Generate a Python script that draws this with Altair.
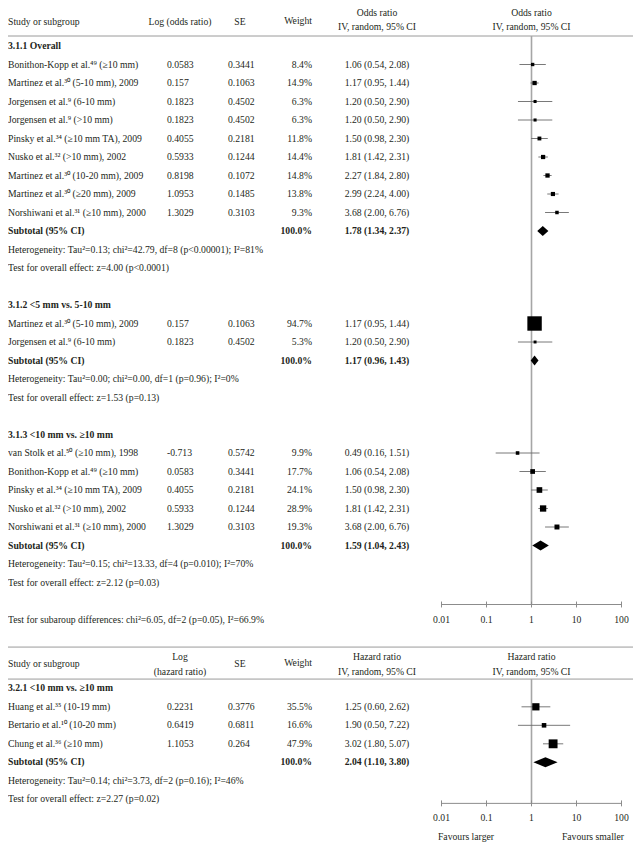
import altair as alt
import pandas as pd

FONT = "Liberation Serif"
FS = 9.7
TXT = "#231f20"
LINE = "#9a9a9a"

# ---------------- data ----------------
g1_label = "3.1.1 Overall"
g1_names = ["Bonithon-Kopp et al.⁴⁹ (≥10 mm)", "Martinez et al.³⁰ (5-10 mm), 2009",
            "Jorgensen et al.⁹ (6-10 mm)", "Jorgensen et al.⁹ (>10 mm)",
            "Pinsky et al.³⁴ (≥10 mm TA), 2009", "Nusko et al.³² (>10 mm), 2002",
            "Martinez et al.³⁰ (10-20 mm), 2009", "Martinez et al.³⁰ (≥20 mm), 2009",
            "Norshiwani et al.³¹ (≥10 mm), 2000"]
g1_log = [0.0583, 0.157, 0.1823, 0.1823, 0.4055, 0.5933, 0.8198, 1.0953, 1.3029]
g1_se = [0.3441, 0.1063, 0.4502, 0.4502, 0.2181, 0.1244, 0.1072, 0.1485, 0.3103]
g1_w = [8.4, 14.9, 6.3, 6.3, 11.8, 14.4, 14.8, 13.8, 9.3]
g1_or = [1.06, 1.17, 1.20, 1.20, 1.50, 1.81, 2.27, 2.99, 3.68]
g1_lo = [0.54, 0.95, 0.50, 0.50, 0.98, 1.42, 1.84, 2.24, 2.00]
g1_hi = [2.08, 1.44, 2.90, 2.90, 2.30, 2.31, 2.80, 4.00, 6.76]
g1_total = [1.78, 1.34, 2.37]
g1_het = "Heterogeneity: Tau²=0.13; chi²=42.79, df=8 (p<0.00001); I²=81%"
g1_test = "Test for overall effect: z=4.00 (p<0.0001)"

g2_label = "3.1.2 <5 mm vs. 5-10 mm"
g2_names = ["Martinez et al.³⁰ (5-10 mm), 2009", "Jorgensen et al.⁹ (6-10 mm)"]
g2_log = [0.157, 0.1823]
g2_se = [0.1063, 0.4502]
g2_w = [94.7, 5.3]
g2_or = [1.17, 1.20]
g2_lo = [0.95, 0.50]
g2_hi = [1.44, 2.90]
g2_total = [1.17, 0.96, 1.43]
g2_het = "Heterogeneity: Tau²=0.00; chi²=0.00, df=1 (p=0.96); I²=0%"
g2_test = "Test for overall effect: z=1.53 (p=0.13)"

g3_label = "3.1.3 <10 mm vs. ≥10 mm"
g3_names = ["van Stolk et al.⁵⁰ (≥10 mm), 1998", "Bonithon-Kopp et al.⁴⁹ (≥10 mm)",
            "Pinsky et al.³⁴ (≥10 mm TA), 2009", "Nusko et al.³² (>10 mm), 2002",
            "Norshiwani et al.³¹ (≥10 mm), 2000"]
g3_log = [-0.713, 0.0583, 0.4055, 0.5933, 1.3029]
g3_se = [0.5742, 0.3441, 0.2181, 0.1244, 0.3103]
g3_w = [9.9, 17.7, 24.1, 28.9, 19.3]
g3_or = [0.49, 1.06, 1.50, 1.81, 3.68]
g3_lo = [0.16, 0.54, 0.98, 1.42, 2.00]
g3_hi = [1.51, 2.08, 2.30, 2.31, 6.76]
g3_total = [1.59, 1.04, 2.43]
g3_het = "Heterogeneity: Tau²=0.15; chi²=13.33, df=4 (p=0.010); I²=70%"
g3_test = "Test for overall effect: z=2.12 (p=0.03)"

subgroup_diff = "Test for subaroup differences: chi²=6.05, df=2 (p=0.05), I²=66.9%"

g4_label = "3.2.1 <10 mm vs. ≥10 mm"
g4_names = ["Huang et al.³⁵ (10-19 mm)", "Bertario et al.¹⁰ (10-20 mm)", "Chung et al.³⁶ (≥10 mm)"]
g4_log = [0.2231, 0.6419, 1.1053]
g4_se = [0.3776, 0.6811, 0.264]
g4_w = [35.5, 16.6, 47.9]
g4_or = [1.25, 1.90, 3.02]
g4_lo = [0.60, 0.50, 1.80]
g4_hi = [2.62, 7.22, 5.07]
g4_total = [2.04, 1.10, 3.80]
g4_het = "Heterogeneity: Tau²=0.14; chi²=3.73, df=2 (p=0.16); I²=46%"
g4_test = "Test for overall effect: z=2.27 (p=0.02)"

subtotal_weight = "100.0%"

top_headers = ["Study or subgroup", "Log (odds ratio)", "SE", "Weight", "Odds ratio", "IV, random, 95% CI"]
bottom_headers = ["Study or subgroup", "Log", "(hazard ratio)", "SE", "Weight", "Hazard ratio", "IV, random, 95% CI"]
tick_values = [0.01, 0.1, 1, 10, 100]
tick_labels = ["0.01", "0.1", "1", "10", "100"]
favours = ["Favours larger", "Favours smaller"]

# ---------------- layout (row units) ----------------
DH = 0.27       # diamond half height
TH = 0.16       # tick half length
B = 34.72       # first row of the lower panel

texts, studies, diamonds = [], [], []


def fmt(e, l, h):
    return f"{e:.2f} ({l:.2f}, {h:.2f})"


def add_group(gid, label, names, log, se, w, est, lo, hi, total, het, test, r0):
    texts.append(dict(r=r0, t=label, col="name", bold=True))
    r = r0
    for i, nm in enumerate(names):
        r = r0 + 1 + i
        texts.extend([
            dict(r=r, t=nm, col="name", bold=False),
            dict(r=r, t=str(log[i]), col="log", bold=False),
            dict(r=r, t=str(se[i]), col="se", bold=False),
            dict(r=r, t=f"{w[i]:.1f}%", col="weight", bold=False),
            dict(r=r, t=fmt(est[i], lo[i], hi[i]), col="ci", bold=False),
        ])
        studies.append(dict(r=r, est=est[i], lo=lo[i], hi=hi[i], w=w[i]))
    rs = r + 1
    texts.extend([
        dict(r=rs, t="Subtotal (95% CI)", col="name", bold=True),
        dict(r=rs, t=subtotal_weight, col="weight", bold=True),
        dict(r=rs, t=fmt(*total), col="ci", bold=True),
        dict(r=rs + 1, t=het, col="name", bold=False),
        dict(r=rs + 2, t=test, col="name", bold=False),
    ])
    e, l, h = total
    diamonds.extend([
        dict(id=gid, x=l, top=rs, bot=rs),
        dict(id=gid, x=e, top=rs - DH, bot=rs + DH),
        dict(id=gid, x=h, top=rs, bot=rs),
    ])
    return rs + 2


last = add_group("g1", g1_label, g1_names, g1_log, g1_se, g1_w, g1_or, g1_lo, g1_hi, g1_total, g1_het, g1_test, 0)
last = add_group("g2", g2_label, g2_names, g2_log, g2_se, g2_w, g2_or, g2_lo, g2_hi, g2_total, g2_het, g2_test, last + 2)
last = add_group("g3", g3_label, g3_names, g3_log, g3_se, g3_w, g3_or, g3_lo, g3_hi, g3_total, g3_het, g3_test, last + 2)
texts.append(dict(r=last + 2, t=subgroup_diff, col="name", bold=False))
top_axis = last + 1.19
top_ticklab = last + 2.0
last4 = add_group("g4", g4_label, g4_names, g4_log, g4_se, g4_w, g4_or, g4_lo, g4_hi, g4_total, g4_het, g4_test, B)
bot_axis = last4 + 0.22
bot_ticklab = last4 + 1.0
fav_row = last4 + 2.04

# headers
th = top_headers
texts.extend([
    dict(r=-1.3, t=th[0], col="name", bold=False),
    dict(r=-1.3, t=th[1], col="hlog", bold=False),
    dict(r=-1.3, t=th[2], col="hse", bold=False),
    dict(r=-1.37, t=th[3], col="weight", bold=False),
    dict(r=-1.77, t=th[4], col="ci", bold=False),
    dict(r=-1.04, t=th[5], col="ci", bold=False),
    dict(r=-1.77, t=th[4], col="fhdr", bold=False),
    dict(r=-1.04, t=th[5], col="fhdr", bold=False),
])
bh = bottom_headers
texts.extend([
    dict(r=B - 1.31, t=bh[0], col="name", bold=False),
    dict(r=B - 1.72, t=bh[1], col="hlog", bold=False),
    dict(r=B - 0.88, t=bh[2], col="hlog", bold=False),
    dict(r=B - 1.31, t=bh[3], col="hse", bold=False),
    dict(r=B - 1.36, t=bh[4], col="weight", bold=False),
    dict(r=B - 1.72, t=bh[5], col="ci", bold=False),
    dict(r=B - 0.88, t=bh[6], col="ci", bold=False),
    dict(r=B - 1.72, t=bh[5], col="fhdr", bold=False),
    dict(r=B - 0.88, t=bh[6], col="fhdr", bold=False),
    dict(r=fav_row, t=favours[0], col="favl", bold=False),
    dict(r=fav_row, t=favours[1], col="favr", bold=False),
])

text_df = pd.DataFrame(texts)
study_df = pd.DataFrame(studies)
diamond_df = pd.DataFrame(diamonds)
hlines_df = pd.DataFrame({"r": [-0.54, B - 2.23, B - 0.5]})
ref_df = pd.DataFrame({"v": [1, 1], "r1": [-0.54, B - 0.5], "r2": [top_axis, bot_axis]})
axis_df = pd.DataFrame({"r": [top_axis, bot_axis]})
tick_df = pd.DataFrame([dict(v=v, lab=l, r=a, lr=tl)
                        for a, tl in [(top_axis, top_ticklab), (bot_axis, bot_ticklab)]
                        for v, l in zip(tick_values, tick_labels)])
tick_df["r1"] = tick_df["r"] - TH
tick_df["r2"] = tick_df["r"] + TH
axis_df["lo"] = tick_values[0]
axis_df["hi"] = tick_values[-1]

# ---------------- scales ----------------
W, H = 625, 836
XS = alt.Scale(type="log", domain=[0.01, 100], range=[433.5, 613.5], nice=False)
YS = alt.Scale(domain=[0, 1], range=[38, 56.5], nice=False, zero=False)

col_spec = {
    "name": (0, "left"), "log": (159, "left"), "se": (220, "left"),
    "weight": (304, "right"), "ci": (369, "center"), "hlog": (172, "center"),
    "hse": (232, "center"), "fhdr": (523.5, "center"), "favl": (458, "center"),
    "favr": (585, "center"),
}

layers = []

# horizontal separator lines
layers.append(alt.Chart(hlines_df).mark_rule(color=LINE, strokeWidth=1).encode(
    x=alt.value(0), x2=alt.value(W), y=alt.Y("r:Q", scale=YS, axis=None)))

# reference line at 1
layers.append(alt.Chart(ref_df).mark_rule(color="#a6a6a6", strokeWidth=1.6).encode(
    x=alt.X("v:Q", scale=XS, axis=None), y=alt.Y("r1:Q", scale=YS, axis=None), y2="r2:Q"))

# axis lines and ticks
layers.append(alt.Chart(axis_df).mark_rule(color="#8c8c8c", strokeWidth=1).encode(
    x=alt.X("lo:Q", scale=XS, axis=None), x2="hi:Q", y=alt.Y("r:Q", scale=YS, axis=None)))
layers.append(alt.Chart(tick_df).mark_rule(color="#8c8c8c", strokeWidth=1).encode(
    x=alt.X("v:Q", scale=XS, axis=None), y=alt.Y("r1:Q", scale=YS, axis=None), y2="r2:Q"))
layers.append(alt.Chart(tick_df).mark_text(font=FONT, fontSize=FS, color=TXT, baseline="middle").encode(
    x=alt.X("v:Q", scale=XS, axis=None), y=alt.Y("lr:Q", scale=YS, axis=None), text="lab:N"))

# confidence intervals
layers.append(alt.Chart(study_df).mark_rule(color="#6a6a6a", strokeWidth=0.9).encode(
    x=alt.X("lo:Q", scale=XS, axis=None), x2="hi:Q", y=alt.Y("r:Q", scale=YS, axis=None)))
# weighted squares
layers.append(alt.Chart(study_df).mark_square(filled=True, color="black", opacity=1).encode(
    x=alt.X("est:Q", scale=XS, axis=None), y=alt.Y("r:Q", scale=YS, axis=None),
    size=alt.Size("w:Q", scale=alt.Scale(type="pow", exponent=1.5, domain=[0, 100], range=[6, 225]), legend=None)))
# pooled diamonds
layers.append(alt.Chart(diamond_df).mark_area(color="black", opacity=1).encode(
    x=alt.X("x:Q", scale=XS, axis=None), y=alt.Y("top:Q", scale=YS, axis=None), y2="bot:Q",
    detail="id:N"))

# text columns
for col, (xp, al) in col_spec.items():
    for bold in (False, True):
        sub = text_df[(text_df["col"] == col) & (text_df["bold"] == bold)]
        if len(sub) == 0:
            continue
        layers.append(alt.Chart(sub[["r", "t"]]).mark_text(
            align=al, baseline="middle", font=FONT, fontSize=FS, color=TXT,
            fontWeight="bold" if bold else "normal").encode(
            x=alt.value(xp), y=alt.Y("r:Q", scale=YS, axis=None), text="t:N"))

chart = alt.layer(*layers).properties(
    width=W, height=H, padding=0, autosize="none"
).configure_view(stroke=None)

chart.save("out.html", embed_options={"renderer": "svg", "actions": False})
